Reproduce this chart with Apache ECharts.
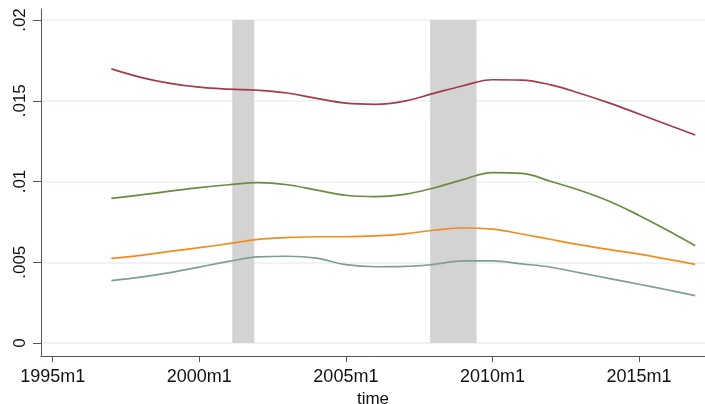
<!DOCTYPE html>
<html><head><meta charset="utf-8">
<script src="https://cdn.jsdelivr.net/npm/echarts@6/dist/echarts.min.js"></script>
<style>html,body{margin:0;padding:0;background:#fff}#c{width:705px;height:404px}</style>
</head><body><div id="c"></div>
<script>
// Stata monthly dates (months since 1960m1); 1997m1 = 444
const months = [444,456,468,480,492,504,516,528,540,552,564,576,588,600,612,624,636,648,660,672,683];
const seriesRed    = [16.97,16.45,16.08,15.84,15.72,15.65,15.48,15.15,14.85,14.78,14.98,15.46,15.93,16.30,16.28,15.98,15.45,14.85,14.18,13.50,12.88];
const seriesGreen  = [8.96,9.17,9.40,9.62,9.80,9.93,9.80,9.47,9.15,9.06,9.20,9.60,10.12,10.55,10.50,10.00,9.44,8.76,7.90,6.95,6.02];
const seriesOrange = [5.24,5.42,5.67,5.90,6.15,6.42,6.53,6.58,6.58,6.63,6.76,6.98,7.12,7.05,6.75,6.41,6.08,5.78,5.50,5.18,4.87];
const seriesGray   = [3.86,4.08,4.36,4.70,5.05,5.33,5.37,5.25,4.85,4.72,4.74,4.87,5.08,5.08,4.90,4.69,4.34,3.99,3.64,3.28,2.93];
const recStart = [493.5, 574.5];
const recEnd   = [502.5, 593.5];
const xTicks = [420,480,540,600,660];
const yTickLabels = ['0','.005','.01','.015','.02'];

const xMin = 415.2, xMax = 687;
const toPairs = arr => months.map((m,i)=>[m, arr[i]/1000]);
const fmtMonth = v => (Math.floor(v/12)+1960) + 'm' + (Math.round(v)%12+1);
const font = 'Liberation Sans, Arial, sans-serif';

const chart = echarts.init(document.getElementById('c'));
const lineSeries = (data, color) => ({
  type:'line', xAxisIndex:1, yAxisIndex:1, data: toPairs(data), showSymbol:false, smooth:0.4, z:5,
  lineStyle:{color, width:1.7}, itemStyle:{color}, silent:true
});
chart.setOption({
  animation:false,
  grid:[
    {left:41, right:0, top:9, bottom:48, containLabel:false, outerBoundsMode:'none'},
    {left:41, right:0, top:20, bottom:61, containLabel:false, outerBoundsMode:'none'}
  ],
  xAxis:[{
    gridIndex:0, type:'value', min:xMin, max:xMax,
    name:'time', nameLocation:'middle', nameGap:33,
    nameTextStyle:{fontFamily:font, fontSize:17, color:'#111'},
    axisLine:{show:true, lineStyle:{color:'#555', width:1}},
    axisTick:{show:true, length:6, lineStyle:{color:'#555', width:1}, customValues:xTicks},
    axisLabel:{fontFamily:font, fontSize:18, color:'#111', margin:12, customValues:xTicks, formatter:fmtMonth},
    splitLine:{show:false}
  },{
    gridIndex:1, type:'value', min:xMin, max:xMax, show:false
  }],
  yAxis:[{
    gridIndex:0, type:'value', min:0, max:1,
    axisLine:{show:true, lineStyle:{color:'#555', width:1}},
    axisTick:{show:false}, axisLabel:{show:false}, splitLine:{show:false}
  },{
    gridIndex:1, type:'value', min:0, max:0.02, interval:0.005,
    axisLine:{show:false},
    axisTick:{show:true, length:8, lineStyle:{color:'#555', width:1}},
    axisLabel:{fontFamily:font, fontSize:17, color:'#111', rotate:90, margin:12,
      formatter: v => yTickLabels[Math.round(v/0.005)]},
    splitLine:{show:true, lineStyle:{color:'#e8f0f2', width:1.5}}
  }],
  series:[
    {type:'line', xAxisIndex:1, yAxisIndex:1, data:[], silent:true, z:2,
     markArea:{silent:true, itemStyle:{color:'#d3d3d3'},
       data: recStart.map((s,i)=>[{xAxis:s, yAxis:0},{xAxis:recEnd[i], yAxis:0.02}])}
    },
    lineSeries(seriesRed, '#a23b4b'),
    lineSeries(seriesGreen, '#6a8b40'),
    lineSeries(seriesOrange, '#f28c1c'),
    lineSeries(seriesGray, '#7f9e96')
  ]
});
</script></body></html>
